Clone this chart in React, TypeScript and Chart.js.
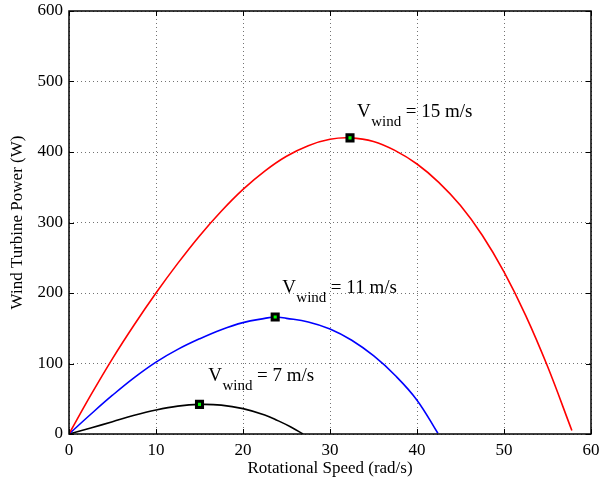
import React, { useEffect, useRef } from "react";
import { Chart, registerables } from "chart.js";

Chart.register(...registerables);

// Rotational speed (rad/s) and power (W) for each wind speed
const speed15 = [0, 2.5, 5, 7.5, 10, 12.5, 15, 17.5, 20, 22.5, 25, 27.5, 30, 32.3, 35, 37.5, 40, 42.5, 45, 47.5, 50, 52.5, 55, 57.8];
const power15 = [0, 55, 107, 155, 200, 242, 281, 316, 347, 373, 394, 409, 418, 420, 415, 402, 383, 357, 324, 282, 230, 168, 96, 5];

const speed11 = [0, 2.5, 5, 7.5, 10, 12.5, 15, 17.5, 20, 22.5, 23.7, 25, 27.5, 30, 32.5, 35, 37.5, 40, 42.4];
const power11 = [0, 28, 55, 80, 102, 120, 135, 148, 158, 164, 166, 164, 159, 149, 133, 111, 83, 48, 1];

const speed7 = [0, 2.5, 5, 7.5, 10, 12.5, 15, 17.5, 20, 22.5, 24, 25.5, 26.9];
const power7 = [0, 8.5, 17.5, 26.5, 34, 39.5, 42, 41, 36, 27, 19, 10, 0];

const peakSpeeds = [32.3, 23.7, 15.0];
const peakPowers = [420, 166, 42];

const labelValues = ["15 m/s", "11 m/s", "7 m/s"];
const labelSpeeds = [33.1, 24.5, 16.0];
const labelPowers = [450, 200, 75];

const xTicks = [0, 10, 20, 30, 40, 50, 60];
const yTicks = [0, 100, 200, 300, 400, 500, 600];

const FONT = "'Liberation Serif', 'Times New Roman', serif";

const toPts = (xs: number[], ys: number[]) => xs.map((x, i) => ({ x, y: ys[i] }));

const framePlugin = {
  id: "frameTicks",
  afterDatasetsDraw(chart: any) {
    const { ctx, chartArea: a, scales } = chart;
    const xs = scales.x;
    const ys = scales.y;
    ctx.save();
    ctx.strokeStyle = "#000";
    ctx.lineWidth = 1.5;
    ctx.strokeRect(a.left, a.top, a.right - a.left, a.bottom - a.top);
    ctx.lineWidth = 1;
    const len = 5;
    ctx.beginPath();
    xTicks.forEach((t) => {
      const px = Math.round(xs.getPixelForValue(t)) + 0.5;
      ctx.moveTo(px, a.bottom);
      ctx.lineTo(px, a.bottom - len);
      ctx.moveTo(px, a.top);
      ctx.lineTo(px, a.top + len);
    });
    yTicks.forEach((t) => {
      const py = Math.round(ys.getPixelForValue(t)) + 0.5;
      ctx.moveTo(a.left, py);
      ctx.lineTo(a.left + len, py);
      ctx.moveTo(a.right, py);
      ctx.lineTo(a.right - len, py);
    });
    ctx.stroke();

    // annotations
    ctx.fillStyle = "#000";
    ctx.textBaseline = "alphabetic";
    ctx.textAlign = "left";
    labelValues.forEach((val, i) => {
      const px = xs.getPixelForValue(labelSpeeds[i]);
      const py = ys.getPixelForValue(labelPowers[i]);
      ctx.font = `19px ${FONT}`;
      ctx.fillText("V", px, py);
      const wV = ctx.measureText("V").width;
      ctx.font = `15px ${FONT}`;
      ctx.fillText("wind", px + wV + 0.5, py + 9);
      const wS = ctx.measureText("wind").width;
      ctx.font = `19px ${FONT}`;
      ctx.fillText("= " + val, px + wV + 0.5 + wS + 4.5, py);
    });
    ctx.restore();
  },
};

export default function App() {
  const ref = useRef<HTMLCanvasElement | null>(null);
  useEffect(() => {
    if (!ref.current) return;
    const gridColor = "rgba(0,0,0,0.55)";
    const line = (xs: number[], ys: number[], color: string) => ({
      data: toPts(xs, ys),
      showLine: true,
      borderColor: color,
      borderWidth: 1.6,
      pointRadius: 0,
      tension: 0.4,
      order: 1,
    });
    const chart = new Chart(ref.current, {
      type: "scatter",
      data: {
        datasets: [
          {
            data: toPts(peakSpeeds, peakPowers),
            showLine: false,
            pointStyle: "rect",
            pointRadius: 4.3,
            pointBorderWidth: 3,
            pointBorderColor: "#000",
            pointBackgroundColor: "#00ff00",
            order: 0,
          },
          line(speed15, power15, "#ff0000"),
          line(speed11, power11, "#0000ff"),
          line(speed7, power7, "#000000"),
        ],
      },
      options: {
        animation: false,
        responsive: false,
        maintainAspectRatio: false,
        layout: { padding: { top: 11, right: 11, left: 0, bottom: 0 } },
        plugins: { legend: { display: false }, tooltip: { enabled: false } },
        scales: {
          x: {
            type: "linear",
            min: 0,
            max: 60,
            afterFit: (s: any) => {
              s.height = 51;
              s.paddingLeft = 0;
              s.paddingRight = 0;
            },
            afterBuildTicks: (s: any) => {
              s.ticks = xTicks.map((v) => ({ value: v }));
            },
            ticks: {
              color: "#000",
              font: { family: FONT, size: 17 },
              padding: 6,
              maxRotation: 0,
            },
            grid: { color: gridColor, lineWidth: 1, drawTicks: false },
            border: { display: false, dash: [1, 3] },
            title: {
              display: true,
              text: "Rotational Speed (rad/s)",
              color: "#000",
              font: { family: FONT, size: 17 },
              padding: { top: 0, bottom: 6 },
            },
          },
          y: {
            type: "linear",
            min: 0,
            max: 600,
            afterFit: (s: any) => {
              s.width = 69;
              s.paddingTop = 0;
              s.paddingBottom = 0;
            },
            afterBuildTicks: (s: any) => {
              s.ticks = yTicks.map((v) => ({ value: v }));
            },
            ticks: {
              color: "#000",
              font: { family: FONT, size: 17 },
              padding: 6,
            },
            grid: { color: gridColor, lineWidth: 1, drawTicks: false },
            border: { display: false, dash: [1, 3] },
            title: {
              display: true,
              text: "Wind Turbine Power (W)",
              color: "#000",
              font: { family: FONT, size: 17 },
              padding: { top: 7, bottom: 0 },
            },
          },
        },
      },
      plugins: [framePlugin],
    } as any);
    return () => chart.destroy();
  }, []);

  return (
    <div style={{ position: "absolute", left: 0, top: 0, width: 602, height: 485, background: "#fff" }}>
      <canvas ref={ref} width={602} height={485} style={{ width: 602, height: 485, display: "block" }} />
    </div>
  );
}
